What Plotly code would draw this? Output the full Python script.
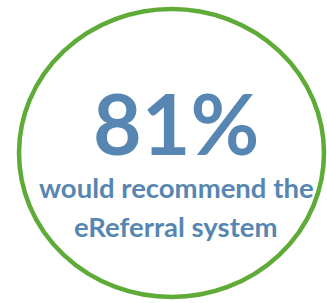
import plotly.graph_objects as go

# Data
percent_value = [81]
label_lines = ["would recommend the", "eReferral system"]

W, H = 327, 303
BLUE = "#5686B1"
GREEN = "#5EAB38"
FONT = "Lato"

fig = go.Figure()

# circle outline
fig.add_shape(type="circle", xref="x", yref="y",
              x0=19, x1=324, y0=9, y1=297,
              line=dict(color=GREEN, width=4.5), fillcolor="rgba(0,0,0,0)")

fig.add_annotation(x=176, y=122, xref="x", yref="y",
                   text=f"<b>{percent_value[0]}%</b>", showarrow=False,
                   font=dict(family=FONT, size=84, color=BLUE),
                   xanchor="center", yanchor="middle")

ys = [187, 226]
for line, yv in zip(label_lines, ys):
    fig.add_annotation(x=176, y=yv, xref="x", yref="y",
                       text=f"<b>{line}</b>", showarrow=False,
                       font=dict(family=FONT, size=27.5, color=BLUE),
                       xanchor="center", yanchor="middle")

fig.update_xaxes(range=[0, W], visible=False, fixedrange=True)
fig.update_yaxes(range=[H, 0], visible=False, fixedrange=True)
fig.update_layout(width=W, height=H, margin=dict(l=0, r=0, t=0, b=0),
                  paper_bgcolor="white", plot_bgcolor="white", showlegend=False)

fig.write_html("out.html", config={"displayModeBar": False},
               post_script="document.body.style.margin='0';document.body.style.overflow='hidden';")
